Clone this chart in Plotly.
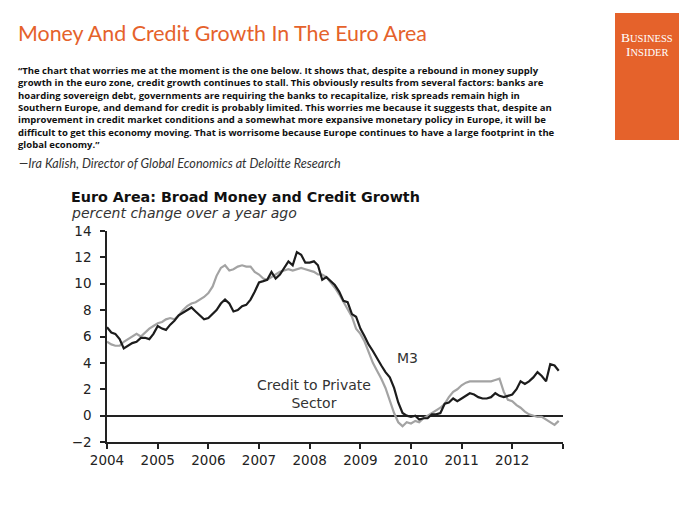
import pandas as pd
import plotly.graph_objects as go

# ---------------- data ----------------
months = pd.date_range("2004-01-01", "2012-12-01", freq="MS")

m3_growth = [
    # 2004
    6.7, 6.3, 6.2, 5.8, 5.1, 5.3, 5.5, 5.6, 5.9, 5.9, 5.8, 6.2,
    # 2005
    6.8, 6.6, 6.5, 6.9, 7.2, 7.6, 7.8, 8.0, 8.2, 7.9, 7.6, 7.3,
    # 2006
    7.4, 7.7, 8.0, 8.5, 8.8, 8.5, 7.9, 8.0, 8.3, 8.4, 8.8, 9.4,
    # 2007
    10.1, 10.2, 10.3, 10.9, 10.4, 10.7, 11.2, 11.7, 11.4, 12.4, 12.2, 11.6,
    # 2008
    11.6, 11.7, 11.4, 10.3, 10.5, 10.2, 9.9, 9.4, 8.7, 8.6, 7.7, 7.5,
    # 2009
    6.6, 6.0, 5.4, 4.9, 4.3, 3.8, 3.3, 2.9, 2.1, 1.0, 0.2, 0.0,
    # 2010
    -0.1, 0.0, -0.3, -0.2, -0.2, 0.1, 0.1, 0.2, 0.9, 1.0, 1.3, 1.1,
    # 2011
    1.3, 1.5, 1.7, 1.6, 1.4, 1.3, 1.3, 1.4, 1.7, 1.5, 1.4, 1.5,
    # 2012
    1.6, 2.0, 2.6, 2.4, 2.6, 2.9, 3.3, 3.0, 2.6, 3.9, 3.8, 3.4,
]

credit_growth = [
    # 2004
    5.6, 5.4, 5.3, 5.3, 5.6, 5.8, 6.0, 6.2, 6.0, 6.3, 6.6, 6.8,
    # 2005
    7.0, 7.1, 7.3, 7.4, 7.3, 7.6, 8.0, 8.3, 8.5, 8.6, 8.8, 9.0,
    # 2006
    9.3, 9.8, 10.6, 11.2, 11.4, 11.0, 11.1, 11.3, 11.4, 11.3, 11.3, 10.9,
    # 2007
    10.7, 10.4, 10.3, 10.5, 10.7, 10.9, 11.0, 11.1, 11.0, 11.1, 11.2, 11.1,
    # 2008
    11.0, 10.9, 10.7, 10.7, 10.5, 10.1, 9.7, 9.2, 8.6, 8.0, 7.5, 6.6,
    # 2009
    6.2, 5.6, 4.8, 4.0, 3.4, 2.8, 2.1, 1.2, 0.2, -0.5, -0.8, -0.5,
    # 2010
    -0.6, -0.4, -0.5, -0.2, 0.0, 0.2, 0.4, 0.6, 0.9, 1.4, 1.8, 2.0,
    # 2011
    2.3, 2.5, 2.6, 2.6, 2.6, 2.6, 2.6, 2.6, 2.7, 2.8, 1.8, 1.2,
    # 2012
    1.1, 0.8, 0.6, 0.3, 0.1, 0.0, -0.1, -0.1, -0.3, -0.5, -0.7, -0.4,
]

year_ticks = ["2004-01-01", "2005-01-01", "2006-01-01", "2007-01-01", "2008-01-01",
              "2009-01-01", "2010-01-01", "2011-01-01", "2012-01-01", "2013-01-01"]
year_labels = ["2004", "2005", "2006", "2007", "2008", "2009", "2010", "2011", "2012", ""]
y_ticks = [-2, 0, 2, 4, 6, 8, 10, 12, 14]

quote_lines = [
    "“The chart that worries me at the moment is the one below. It shows that, despite a rebound in money supply",
    "growth in the euro zone, credit growth continues to stall. This obviously results from several factors: banks are",
    "hoarding sovereign debt, governments are requiring the banks to recapitalize, risk spreads remain high in",
    "Southern Europe, and demand for credit is probably limited. This worries me because it suggests that, despite an",
    "improvement in credit market conditions and a somewhat more expansive monetary policy in Europe, it will be",
    "difficult to get this economy moving. That is worrisome because Europe continues to have a large footprint in the",
    "global economy.”",
]

# ---------------- layout helpers ----------------
W, H = 700, 525
L, R, T, B = 107, 563, 231, 442


def pxx(x):
    return (x - L) / (R - L)


def pxy(y):
    return (B - y) / (B - T)


ORANGE = "#E5622B"
CHART_FONT = "DejaVu Sans"

fig = go.Figure()
fig.add_trace(go.Scatter(x=months, y=credit_growth, mode="lines",
                         line=dict(color="#a3a3a3", width=2.2), name="Credit to Private Sector",
                         hoverinfo="skip"))
fig.add_trace(go.Scatter(x=months, y=m3_growth, mode="lines",
                         line=dict(color="#1c1c1c", width=2.2), name="M3",
                         hoverinfo="skip"))

fig.update_layout(
    width=W, height=H,
    margin=dict(l=L, r=W - R, t=T, b=H - B, pad=0),
    paper_bgcolor="white", plot_bgcolor="white",
    showlegend=False,
    xaxis=dict(
        range=["2004-01-01", "2013-01-01"],
        tickvals=year_ticks, ticktext=year_labels,
        showgrid=False, zeroline=False,
        showline=True, linecolor="#222", linewidth=1.5,
        ticks="outside", ticklen=5, tickwidth=1.5, tickcolor="#222",
        tickfont=dict(family=CHART_FONT, size=13.5, color="#222"),
        fixedrange=True,
    ),
    yaxis=dict(
        range=[-2, 14],
        tickvals=y_ticks,
        showgrid=False,
        zeroline=True, zerolinecolor="#222", zerolinewidth=1.5,
        showline=True, linecolor="#222", linewidth=1.5,
        ticks="outside", ticklen=5, tickwidth=1.5, tickcolor="#222",
        tickfont=dict(family=CHART_FONT, size=13.5, color="#222"),
        ticklabelstandoff=6,
        fixedrange=True,
    ),
)

annotations = [
    # page title
    dict(text="Money And Credit Growth In The Euro Area", x=pxx(16), y=pxy(33),
         xanchor="left", yanchor="middle",
         font=dict(family="Lato", size=21.4, color=ORANGE)),
    # quote (single multi-line text block)
    dict(text="<b>" + "<br>".join(quote_lines) + "</b>", x=pxx(17), y=pxy(63),
         xanchor="left", yanchor="top", align="left", borderpad=0,
         font=dict(family="Open Sans", size=9.5, color="#111")),
    # attribution
    dict(text="<i>—Ira Kalish, Director of Global Economics at Deloitte Research</i>",
         x=pxx(17), y=pxy(163), xanchor="left", yanchor="middle",
         font=dict(family="Lato", size=12.6, color="#333")),
    # logo text
    dict(text="B<span style='font-size:10.5px'>USINESS</span>", x=pxx(647), y=pxy(37),
         xanchor="center", yanchor="middle",
         font=dict(family="Liberation Serif", size=13.5, color="white")),
    dict(text="I<span style='font-size:10.5px'>NSIDER</span>", x=pxx(647), y=pxy(51),
         xanchor="center", yanchor="middle",
         font=dict(family="Liberation Serif", size=13.5, color="white")),
    # chart title
    dict(text="<b>Euro Area: Broad Money and Credit Growth</b>", x=pxx(69), y=pxy(197),
         xanchor="left", yanchor="middle",
         font=dict(family=CHART_FONT, size=14.3, color="#111")),
    dict(text="<i>percent change over a year ago</i>", x=pxx(69), y=pxy(213),
         xanchor="left", yanchor="middle",
         font=dict(family=CHART_FONT, size=14, color="#333")),
    # series labels
    dict(text="M3", x=pxx(407), y=pxy(358), xanchor="center", yanchor="middle",
         font=dict(family=CHART_FONT, size=14, color="#333")),
    dict(text="Credit to Private<br>Sector", x=pxx(314), y=pxy(394), xanchor="center",
         yanchor="middle", align="center",
         font=dict(family=CHART_FONT, size=14, color="#333")),
]
for a in annotations:
    a.update(xref="paper", yref="paper", showarrow=False)
fig.update_layout(annotations=annotations)

fig.update_layout(shapes=[
    dict(type="rect", xref="paper", yref="paper",
         x0=pxx(615), x1=pxx(679), y0=pxy(140), y1=pxy(13),
         fillcolor=ORANGE, line=dict(width=0), layer="below"),
])

fig.write_html("out.html", config={"displayModeBar": False},
               post_script="document.body.style.margin='0';")
